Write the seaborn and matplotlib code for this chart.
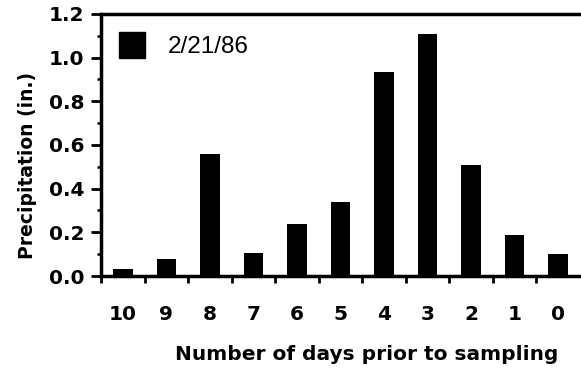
import matplotlib
matplotlib.use("Agg")
import matplotlib.pyplot as plt
import seaborn as sns
import pandas as pd
from matplotlib.ticker import MultipleLocator, FixedLocator
from matplotlib.patches import Patch

days = ["10", "9", "8", "7", "6", "5", "4", "3", "2", "1", "0"]
precip = [0.03, 0.08, 0.56, 0.105, 0.24, 0.34, 0.935, 1.11, 0.51, 0.19, 0.10]
series_label = "2/21/86"
yticks = [0.0, 0.2, 0.4, 0.6, 0.8, 1.0, 1.2]

sns.set_style("ticks")
plt.rcParams['font.family'] = ['DejaVu Sans']
plt.rcParams.update({"text.color": "black", "axes.labelcolor": "black",
                     "xtick.color": "black", "ytick.color": "black",
                     "axes.edgecolor": "black"})

df = pd.DataFrame({"days": days, "precip": precip})

fig = plt.figure(figsize=(5.81, 3.74), dpi=100)
ax = fig.add_axes([0.174, 0.262, 0.824, 0.701])

sns.barplot(data=df, x="days", y="precip", order=days, color="black",
            width=0.45, saturation=1, ax=ax, edgecolor="black", linewidth=0)

ax.set_xlim(-0.5, 10.5)
ax.set_ylim(0, 1.2)
ax.set_yticks(yticks)
ax.set_yticklabels([f"{v:.1f}" for v in yticks])
ax.yaxis.set_minor_locator(MultipleLocator(0.1))
ax.xaxis.set_minor_locator(FixedLocator([i - 0.5 for i in range(len(days))]))

for s in ["left", "bottom", "top"]:
    ax.spines[s].set_linewidth(2.5)
    ax.spines[s].set_color("black")
    ax.spines[s].set_capstyle("projecting")
ax.spines["right"].set_visible(False)

ax.tick_params(axis="y", which="major", direction="out", length=7, width=2.0,
               labelsize=14.5, pad=5, colors="black")
ax.tick_params(axis="y", which="minor", direction="out", length=3, width=1.8,
               colors="black")
ax.tick_params(axis="x", which="major", length=0, labelsize=14.5, pad=21,
               colors="black")
ax.tick_params(axis="x", which="minor", direction="out", length=5, width=2.0,
               colors="black")
for lab in ax.get_xticklabels() + ax.get_yticklabels():
    lab.set_fontweight("bold")

ax.set_xlabel("Number of days prior to sampling", fontsize=14.5, fontweight="bold",
              color="black")
ax.xaxis.set_label_coords(0.555, -0.265)
ax.set_ylabel("Precipitation (in.)", fontsize=13.5, fontweight="bold",
              color="black")
ax.yaxis.set_label_coords(-0.134, 0.42)

handle = Patch(facecolor="black", edgecolor="black", label=series_label)
leg = ax.legend(handles=[handle], loc="upper left", bbox_to_anchor=(0.037, 0.93),
                frameon=False, prop={"family": "Liberation Sans", "size": 17.5},
                handlelength=1.07, handleheight=1.27,
                handletextpad=0.95, borderpad=0, borderaxespad=0)
for t in leg.get_texts():
    t.set_color("black")

fig.savefig("out.png", dpi=100)
